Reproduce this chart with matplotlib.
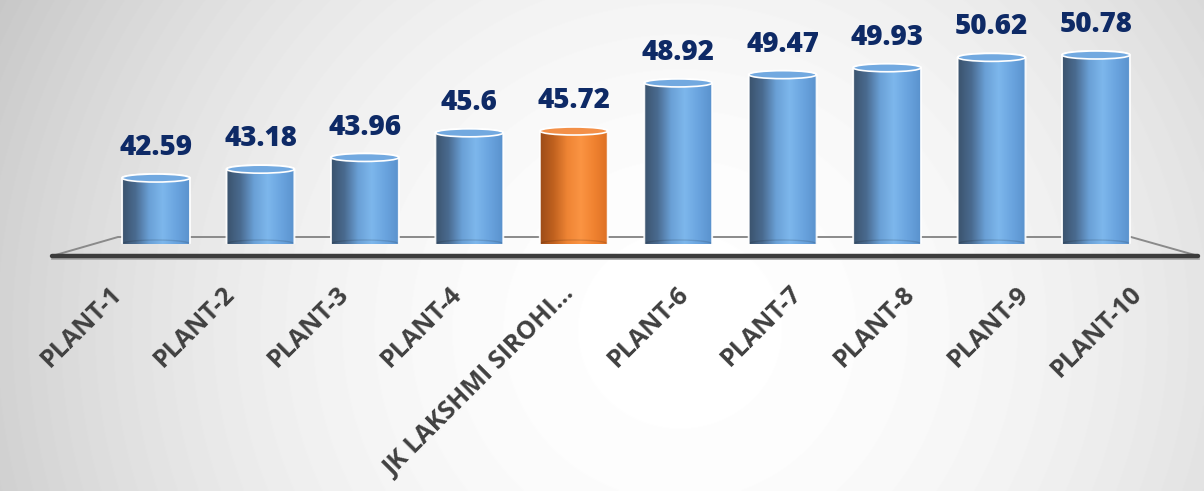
import matplotlib.pyplot as plt
import numpy as np
from matplotlib.colors import LinearSegmentedColormap
from matplotlib.patches import Ellipse, PathPatch
from matplotlib.path import Path

plants = ["PLANT-1", "PLANT-2", "PLANT-3", "PLANT-4", "JK LAKSHMI SIROHI\u2026",
          "PLANT-6", "PLANT-7", "PLANT-8", "PLANT-9", "PLANT-10"]
values = [42.59, 43.18, 43.96, 45.6, 45.72, 48.92, 49.47, 49.93, 50.62, 50.78]
highlight = "JK LAKSHMI SIROHI\u2026"

base = 38.2      # value axis minimum (floor of the 3D plot)
ytop = 54.44

W, H = 1204, 491
fig = plt.figure(figsize=(W / 100, H / 100), dpi=100)

# soft radial grey background
bg = fig.add_axes([0, 0, 1, 1])
bg.set_axis_off()
yy, xx = np.mgrid[0:H, 0:W]
r = np.hypot((xx - 680) / 620, (yy - 330) / 600)
shade = np.clip(1 - 0.145 * r ** 2, 0, 1)
bg.imshow(shade, cmap="gray", vmin=0, vmax=1, extent=[0, 1, 0, 1],
          aspect="auto", origin="upper")
bg.set_xlim(0, 1)
bg.set_ylim(0, 1)

slot_px = 104.44
ax = fig.add_axes([103.8 / W, 1 - 244 / H, 10 * slot_px / W, 244 / H])
ax.set_axis_off()
ax.patch.set_alpha(0)
ypx = 244 / (ytop - base)   # pixels per value unit

x = np.arange(len(plants))
bars = ax.bar(x, np.array(values) - base, bottom=base, width=0.65,
              color="none", edgecolor="none")

# floor: back edge, side edges and the thick front edge
back_y = base + 7 / ypx
front_y = base - 12 / ypx
ax.plot([-0.996, -0.364, 9.335, 9.98], [front_y, back_y, back_y, front_y],
        color="#8a8a8a", lw=1.4, clip_on=False, zorder=1)
ax.plot([-0.996, 9.98], [front_y - 2.5 / ypx] * 2, color="#a8a8a8", lw=2,
        clip_on=False, zorder=1)
ax.plot([-0.996, 9.98], [front_y, front_y], color="#3c3c3c", lw=3.2,
        solid_capstyle="round", clip_on=False, zorder=2)

blue = LinearSegmentedColormap.from_list(
    "blue", ["#3b536d", "#4a6b90", "#6aa0d6", "#7db7ec", "#6aa4df", "#5a92cd"])
orange = LinearSegmentedColormap.from_list(
    "orange", ["#9c4c18", "#c0611f", "#ee8434", "#fb9443", "#f08230", "#dd7024"])
grad = np.linspace(0, 1, 256).reshape(1, -1)

ry = 4 / ypx
t = np.linspace(0, np.pi, 60)
for rect, v, name in zip(bars, values, plants):
    x0, w = rect.get_x(), rect.get_width()
    cx = x0 + w / 2
    bot = rect.get_y()
    top = bot + rect.get_height()
    upper = np.column_stack([cx - w / 2 * np.cos(t), top + ry * np.sin(t)])
    lower = np.column_stack([cx + w / 2 * np.cos(t), bot - ry * np.sin(t)])
    verts = np.vstack([upper, lower, upper[:1]])
    outline = PathPatch(Path(verts, closed=True), facecolor="none",
                        edgecolor="white", lw=1.4, alpha=0.9, zorder=4)
    ax.add_patch(outline)

    cmap = orange if name == highlight else blue
    img = ax.imshow(grad, cmap=cmap, aspect="auto", zorder=3,
                    extent=[x0, x0 + w, bot - ry, top + ry])
    img.set_clip_path(outline)

    # faint back rim of the base showing through
    ax.plot(cx + w / 2 * np.cos(t), bot + ry * np.sin(t), color="black",
            alpha=0.12, lw=1, zorder=3.5)

    cap = "#f39048" if name == highlight else "#72a9e0"
    ax.add_patch(Ellipse((cx, top), w, 2 * ry, facecolor=cap,
                         edgecolor="white", lw=1.2, zorder=5))

    ax.annotate(f"{v:g}", (cx, top), xytext=(0, 16.5), textcoords="offset points",
                ha="center", va="baseline", fontsize=20, fontweight="heavy",
                color="#0e2a66", family="Open Sans", zorder=6)

# category labels sit along the wider front edge of the floor
for i, name in enumerate(plants):
    xf = 4.5 + (i - 4.5) * 1.085 + 2 / slot_px
    ax.text(xf, base - 46 / ypx, name, rotation=45, rotation_mode="anchor",
            ha="right", va="center", fontsize=18, fontweight="bold",
            color="#404040", family="Open Sans", clip_on=False)

ax.set_xlim(-0.5, 9.5)
ax.set_ylim(base, ytop)

fig.savefig("out.png", dpi=100)
